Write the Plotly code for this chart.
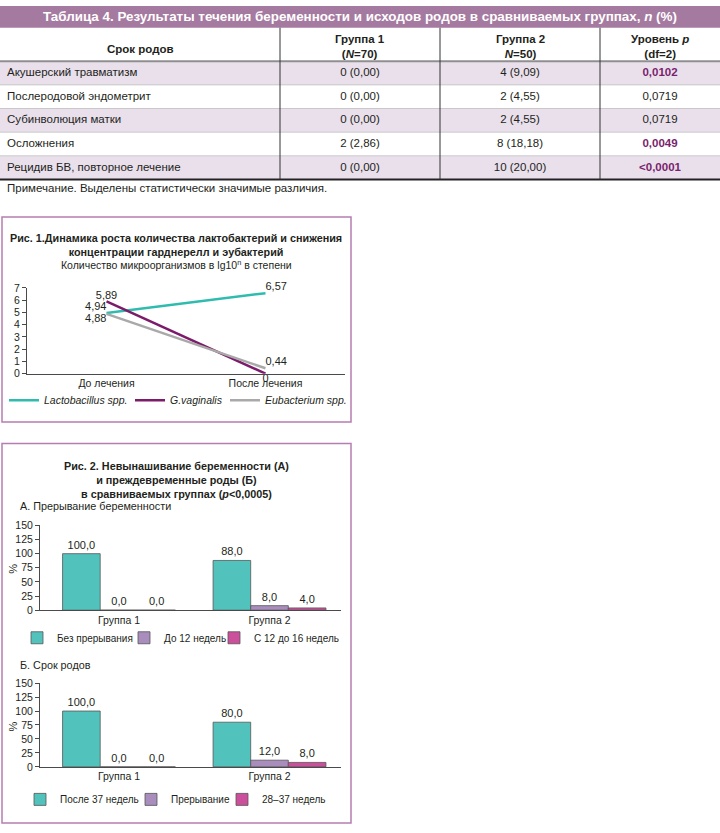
import plotly.graph_objects as go

W, H = 720, 833
def X(px):
    return px / W
def Y(py):
    return 1 - py / H

FONT = "Liberation Sans, Arial, sans-serif"
PURPLE_BOX = "#b57db1"
TXT = "#231f20"

# ---------------- Table data ----------------
table_title = "Таблица 4. Результаты течения беременности и исходов родов в сравниваемых группах, <i>n</i> (%)"
col_headers = ["<b>Срок родов</b>", "<b>Группа 1<br>(<i>N</i>=70)</b>",
               "<b>Группа 2<br><i>N</i>=50)</b>", "<b>Уровень <i>p</i><br>(df=2)</b>"]
outcomes = ["Акушерский травматизм", "Послеродовой эндометрит", "Субинволюция матки",
            "Осложнения", "Рецидив БВ, повторное лечение"]
group1 = ["0 (0,00)", "0 (0,00)", "0 (0,00)", "2 (2,86)", "0 (0,00)"]
group2 = ["4 (9,09)", "2 (4,55)", "2 (4,55)", "8 (18,18)", "10 (20,00)"]
p_values = ["0,0102", "0,0719", "0,0719", "0,0049", "&lt;0,0001"]
significant = [True, False, False, True, True]
table_note = "Примечание. Выделены статистически значимые различия."

# ---------------- Figure 1 data ----------------
fig1_title = "<b>Рис. 1.Динамика роста количества лактобактерий и снижения<br>концентрации гарднерелл и эубактерий</b>"
fig1_sub = "Количество микроорганизмов в lg10<sup>n</sup> в степени"
stages = ["До лечения", "После лечения"]
lacto = [4.94, 6.57]
gvag = [5.89, 0]
eubac = [4.88, 0.44]

# ---------------- Figure 2 data ----------------
fig2_title = "<b>Рис. 2. Невынашивание беременности (А)<br>и преждевременные роды (Б)<br>в сравниваемых группах (<i>p</i>&lt;0,0005)</b>"
panel_a = "А. Прерывание беременности"
panel_b = "Б. Срок родов"
y_label = "%"
groups = ["Группа 1", "Группа 2"]
a_names = ["Без прерывания", "До 12 недель", "С 12 до 16 недель"]
a_none = [100.0, 88.0]
a_12 = [0.0, 8.0]
a_12_16 = [0.0, 4.0]
b_names = ["После 37 недель", "Прерывание", "28–37 недель"]
b_after37 = [100.0, 80.0]
b_abort = [0.0, 12.0]
b_28_37 = [0.0, 8.0]

BAR_COLORS = ["#52c3bc", "#a88dbd", "#cc4f9c"]
LINE_COLORS = ["#2fbcae", "#7d1b6b", "#a9a9a9"]

def fmt(v):
    return "0" if v == 0 else f"{v:.2f}".replace(".", ",")

fig = go.Figure()

# ---------------- Table body (axis pair x4/y4 in pixel units) ----------------
n_rows = len(outcomes)
rows = list(range(n_rows))
col_edges = [0, 280, 440, 600, 720]
col_mid = [(a + b) / 2 for a, b in zip(col_edges[:-1], col_edges[1:])]
shade = [[1 if i % 2 == 0 else 0] for i in rows]
fig.add_trace(go.Heatmap(
    z=shade, x=[col_edges[0], col_edges[-1]], y=rows,
    colorscale=[[0, "#ffffff"], [1, "#e9e0ec"]], zmin=0, zmax=1, showscale=False,
    xaxis="x4", yaxis="y4", hoverinfo="skip", showlegend=False))

p_text = [f"<b>{p}</b>" if s else p for p, s in zip(p_values, significant)]
p_colors = ["#7a1f6e" if s else TXT for s in significant]
table_cols = [(outcomes, col_edges[0] + 7, "middle right", TXT),
              (group1, col_mid[1], "middle center", TXT),
              (group2, col_mid[2], "middle center", TXT),
              (p_text, col_mid[3], "middle center", p_colors)]
for vals, cx, tpos, tcol in table_cols:
    fig.add_trace(go.Scatter(
        x=[cx] * n_rows, y=rows, text=vals, mode="text", textposition=tpos,
        textfont=dict(family=FONT, size=11.5, color=tcol), cliponaxis=False,
        xaxis="x4", yaxis="y4", hoverinfo="skip", showlegend=False))

# ---------------- Figure 1 lines ----------------
series1 = [("<i>Lactobacillus spp.</i>", lacto, ["top left", "top right"], "legend"),
           ("<i>G.vaginalis</i>", gvag, ["top center", "bottom center"], "legend2"),
           ("<i>Eubacterium spp.</i>", eubac, ["bottom left", "top right"], "legend3")]
for (name, vals, pos, lg), col in zip(series1, LINE_COLORS):
    fig.add_trace(go.Scatter(
        x=stages, y=vals, name=name, mode="lines+text",
        text=[fmt(v) for v in vals], textposition=pos,
        textfont=dict(family=FONT, size=11, color=TXT),
        line=dict(color=col, width=2.5), cliponaxis=False,
        xaxis="x", yaxis="y", legend=lg, hoverinfo="skip"))

# ---------------- Figure 2 bars ----------------
for names, vals_list, xa, ya, lgs in [
        (a_names, [a_none, a_12, a_12_16], "x2", "y2", ["legend4", "legend5", "legend6"]),
        (b_names, [b_after37, b_abort, b_28_37], "x3", "y3", ["legend7", "legend8", "legend9"])]:
    for name, vals, col, lg in zip(names, vals_list, BAR_COLORS, lgs):
        fig.add_trace(go.Bar(
            x=groups, y=vals, name=name,
            marker=dict(color=col, line=dict(color="#555555", width=0.8)),
            texttemplate="%{y:.1f}", textposition="outside", constraintext="none",
            textfont=dict(family=FONT, size=11, color=TXT), cliponaxis=False,
            xaxis=xa, yaxis=ya, legend=lg, hoverinfo="skip"))

axis_common = dict(showline=True, linecolor="#4a4a4a", linewidth=1, showgrid=False,
                   zeroline=False, tickfont=dict(family=FONT, size=10.5, color=TXT), fixedrange=True)

def leg(x, y, size):
    return dict(orientation="h", x=X(x), y=Y(y), xanchor="left", yanchor="middle",
                font=dict(family=FONT, size=size, color=TXT), bgcolor="rgba(0,0,0,0)",
                itemclick=False, itemdoubleclick=False)

fig.update_layout(
    width=W, height=H, margin=dict(l=0, r=0, t=0, b=0),
    paper_bgcolor="white", plot_bgcolor="rgba(0,0,0,0)",
    font=dict(family=FONT, color=TXT),
    separators=", ",
    barmode="group", bargap=0.25, bargroupgap=0,
    xaxis=dict(domain=[X(27), X(345)], anchor="y", type="category", range=[-0.5, 1.5],
               ticks="", **axis_common),
    yaxis=dict(domain=[Y(373), Y(286)], anchor="x", range=[0, 7], dtick=1,
               ticks="outside", ticklen=4, tickcolor="#4a4a4a", **axis_common),
    xaxis2=dict(domain=[X(40), X(341)], anchor="y2", type="category", range=[-0.525, 1.475],
                ticks="", **axis_common),
    yaxis2=dict(domain=[Y(613), Y(527)], anchor="x2", range=[0, 150], dtick=25,
                ticks="outside", ticklen=4, tickcolor="#4a4a4a", **axis_common),
    xaxis3=dict(domain=[X(40), X(341)], anchor="y3", type="category", range=[-0.525, 1.475],
                ticks="", **axis_common),
    yaxis3=dict(domain=[Y(772), Y(687)], anchor="x3", range=[0, 150], dtick=25,
                ticks="outside", ticklen=4, tickcolor="#4a4a4a", **axis_common),
    xaxis4=dict(domain=[0, 1], anchor="y4", range=[0, 720], visible=False, fixedrange=True),
    yaxis4=dict(domain=[Y(176), Y(56)], anchor="x4", range=[n_rows - 0.5, -0.5],
                visible=False, fixedrange=True),
    legend=leg(4, 400, 10.5), legend2=leg(130, 400, 10.5), legend3=leg(225, 400, 10.5),
    legend4=leg(17, 641, 10), legend5=leg(124, 641, 10), legend6=leg(214, 641, 10),
    legend7=leg(20, 805, 10), legend8=leg(131, 805, 10), legend9=leg(222, 805, 10),
    showlegend=True,
)

shapes = [
    dict(type="rect", xref="paper", yref="paper", x0=0, x1=1, y0=Y(22), y1=Y(0),
         fillcolor="#a57aa1", line=dict(width=0), layer="above"),
]
# thin row separators
for i in rows[:-1]:
    shapes.append(dict(type="line", xref="x4", yref="y4", x0=col_edges[0], x1=col_edges[-1],
                       y0=i + 0.5, y1=i + 0.5, line=dict(color="#c8c8c8", width=1), layer="above"))
shapes += [
    dict(type="line", xref="paper", yref="paper", x0=0, x1=1, y0=Y(56), y1=Y(56),
         line=dict(color="#8f8f8f", width=2), layer="above"),
    dict(type="line", xref="paper", yref="paper", x0=0, x1=1, y0=Y(176), y1=Y(176),
         line=dict(color="#222222", width=2), layer="above"),
    dict(type="rect", xref="paper", yref="paper", x0=X(2), x1=X(351), y0=Y(422), y1=Y(214),
         line=dict(color=PURPLE_BOX, width=1.5)),
    dict(type="rect", xref="paper", yref="paper", x0=X(2), x1=X(351), y0=Y(829), y1=Y(444),
         line=dict(color=PURPLE_BOX, width=1.5)),
]
for cx in col_edges[1:-1]:
    shapes.append(dict(type="line", xref="paper", yref="paper", x0=X(cx), x1=X(cx),
                       y0=Y(176), y1=Y(22), line=dict(color="#333333", width=1), layer="above"))
fig.update_layout(shapes=shapes)

col_header_y = [44, 41, 41, 41]
ann = [
    dict(text=f"<b>{table_title}</b>", x=0.5, y=Y(11), font=dict(size=13.4, color="white")),
    dict(text=table_note, x=X(5), y=Y(185), xanchor="left", font=dict(size=11.5)),
    dict(text=fig1_title, x=X(176), y=Y(242), font=dict(size=10.8)),
    dict(text=fig1_sub, x=X(176), y=Y(262), font=dict(size=10.5)),
    dict(text=fig2_title, x=X(176), y=Y(481), font=dict(size=10.8)),
    dict(text=panel_a, x=X(18), y=Y(507), xanchor="left", font=dict(size=10.8)),
    dict(text=panel_b, x=X(18), y=Y(669), xanchor="left", font=dict(size=10.8)),
    dict(text=y_label, x=X(13), y=Y(571), textangle=-90, font=dict(size=11)),
    dict(text=y_label, x=X(13), y=Y(731), textangle=-90, font=dict(size=11)),
]
for cx, cy, htxt in zip(col_mid, col_header_y, col_headers):
    ann.append(dict(text=htxt, x=X(cx), y=Y(cy), font=dict(size=11.5)))
for a in ann:
    a.setdefault("xanchor", "center")
    a.update(xref="paper", yref="paper", showarrow=False, yanchor="middle")
    a["font"].setdefault("color", TXT)
    a["font"].setdefault("family", FONT)
fig.update_layout(annotations=ann)

fig.write_html("out.html", config={"displayModeBar": False, "staticPlot": True},
               post_script="document.body.style.margin='0px';document.body.style.overflow='hidden';")
